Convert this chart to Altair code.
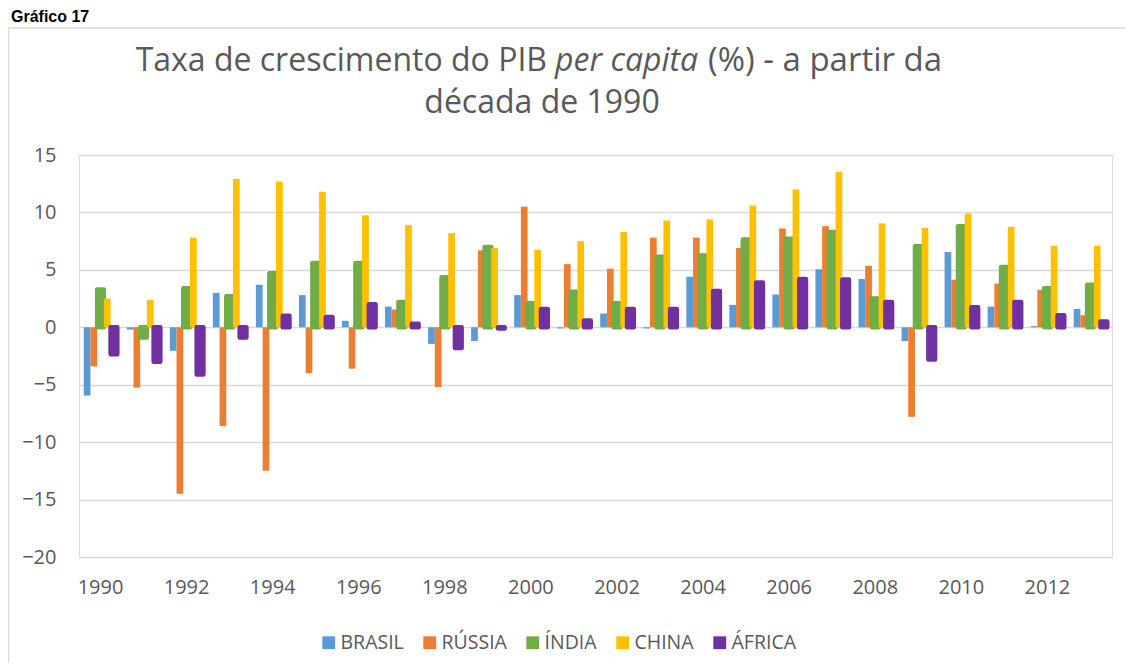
import altair as alt
import pandas as pd

anos = ["1990", "1991", "1992", "1993", "1994", "1995", "1996", "1997", "1998", "1999",
        "2000", "2001", "2002", "2003", "2004", "2005", "2006", "2007", "2008", "2009",
        "2010", "2011", "2012", "2013"]
rotulos_x = ["1990", "1992", "1994", "1996", "1998", "2000", "2002", "2004", "2006",
             "2008", "2010", "2012"]
series = ["BRASIL", "RÚSSIA", "ÍNDIA", "CHINA", "ÁFRICA"]
cores = ["#5B9BD5", "#ED7D31", "#70AD47", "#FFC000", "#7030A0"]

brasil = [-5.95, -0.2, -2.05, 3.0, 3.7, 2.8, 0.57, 1.8, -1.45, -1.2, 2.8, -0.1,
          1.2, -0.1, 4.4, 1.95, 2.85, 5.05, 4.2, -1.2, 6.55, 1.8, 0.1, 1.6]
russia = [-3.4, -5.25, -14.5, -8.6, -12.5, -4.0, -3.6, 1.55, -5.2, 6.7, 10.5, 5.5,
          5.1, 7.8, 7.8, 6.9, 8.6, 8.8, 5.35, -7.8, 4.15, 3.8, 3.25, 1.05]
india = [3.3, -0.9, 3.4, 2.7, 4.7, 5.6, 5.6, 2.2, 4.35, 7.0, 2.1, 3.1,
         2.1, 6.15, 6.25, 7.65, 7.7, 8.3, 2.5, 7.05, 8.8, 5.25, 3.4, 3.7]
china = [2.5, 2.4, 7.8, 12.9, 12.7, 11.8, 9.75, 8.9, 8.2, 6.9, 6.75, 7.5,
         8.3, 9.3, 9.4, 10.6, 12.0, 13.55, 9.05, 8.65, 9.9, 8.75, 7.1, 7.1]
africa = [-2.35, -3.0, -4.1, -0.9, 1.0, 0.9, 2.0, 0.3, -1.8, -0.1, 1.6, 0.6,
          1.6, 1.6, 3.15, 3.9, 4.2, 4.15, 2.2, -2.8, 1.75, 2.2, 1.05, 0.5]
valores_y = [-20, -15, -10, -5, 0, 5, 10, 15]

valores = {"BRASIL": brasil, "RÚSSIA": russia, "ÍNDIA": india, "CHINA": china, "ÁFRICA": africa}
linhas = []
for i, ano in enumerate(anos):
    for s in series:
        linhas.append({"ano": ano, "serie": s, "valor": valores[s][i]})
df = pd.DataFrame(linhas)

FONT = "Open Sans"
GRAY = "#595959"
W, H = 1033, 402

contorno = alt.FieldOneOfPredicate(field="serie", oneOf=["ÍNDIA", "ÁFRICA"])

bars = alt.Chart(df).mark_bar(strokeJoin="round").encode(
    x=alt.X("ano:N", sort=anos,
            scale=alt.Scale(paddingInner=0.22, paddingOuter=0.11),
            axis=alt.Axis(values=rotulos_x, labelAngle=0, title=None, domain=False,
                          ticks=False, grid=False, labelPadding=20, labelFontSize=20,
                          labelColor=GRAY, labelFont=FONT)),
    xOffset=alt.XOffset("serie:N", sort=series,
                        scale=alt.Scale(domain=series, paddingInner=0, paddingOuter=0)),
    y=alt.Y("valor:Q", scale=alt.Scale(domain=[-20, 15], nice=False, zero=False),
            axis=alt.Axis(values=valores_y, title=None, domain=False, ticks=False,
                          labelPadding=23, labelFontSize=20, labelColor=GRAY,
                          labelFont=FONT, gridColor="#d9d9d9", gridWidth=1.3)),
    fill=alt.Fill("serie:N", sort=series,
                  scale=alt.Scale(domain=series, range=cores),
                  legend=alt.Legend(title=None, orient="none", legendX=240, legendY=478,
                                    direction="horizontal", columns=5, columnPadding=16,
                                    gridAlign="none",
                                    labelOffset=2, labelFontSize=19.5, labelColor=GRAY,
                                    labelFont=FONT, symbolType="square", symbolSize=165,
                                    symbolStrokeWidth=0)),
    stroke=alt.Stroke("serie:N", sort=series,
                      scale=alt.Scale(domain=series, range=cores), legend=None),
    strokeWidth=alt.condition(contorno, alt.value(4.5), alt.value(0)),
)

one = pd.DataFrame({"k": [0]})

def txt(text, x, y, align="left", size=32, style="normal", weight="normal", color=GRAY, font=FONT):
    return alt.Chart(one).mark_text(
        text=text, align=align, baseline="alphabetic", fontSize=size, font=font,
        fontStyle=style, fontWeight=weight, color=color
    ).encode(x=alt.value(x), y=alt.value(y))

t1 = txt("Taxa de crescimento do PIB", 468, -84, align="right")
t2 = txt("per capita", 476, -84, style="italic")
t3 = txt("(%) - a partir da", 629, -84, size=33)
t4 = txt("década de 1990", 463, -42, align="center")
graf = txt("Gráfico 17", -68, -133, size=16, weight="bold", color="#000000",
           font="Liberation Sans")

borda_v = alt.Chart(one).mark_rule(color="#d9d9d9", strokeWidth=1.5).encode(
    x=alt.value(-70.5), y=alt.value(-127), y2=alt.value(520))
borda_h = alt.Chart(one).mark_rule(color="#d9d9d9", strokeWidth=1.5).encode(
    x=alt.value(-71), x2=alt.value(1070), y=alt.value(-127))

chart = alt.layer(borda_v, borda_h, bars, t1, t2, t3, t4, graf).properties(
    width=W, height=H,
    autosize=alt.AutoSizeParams(type="none"),
    padding={"left": 71, "top": 147, "right": 14, "bottom": 105},
).configure_view(stroke=None).configure(background="white")

chart.save("out.html", embed_options={"renderer": "svg", "actions": False})
